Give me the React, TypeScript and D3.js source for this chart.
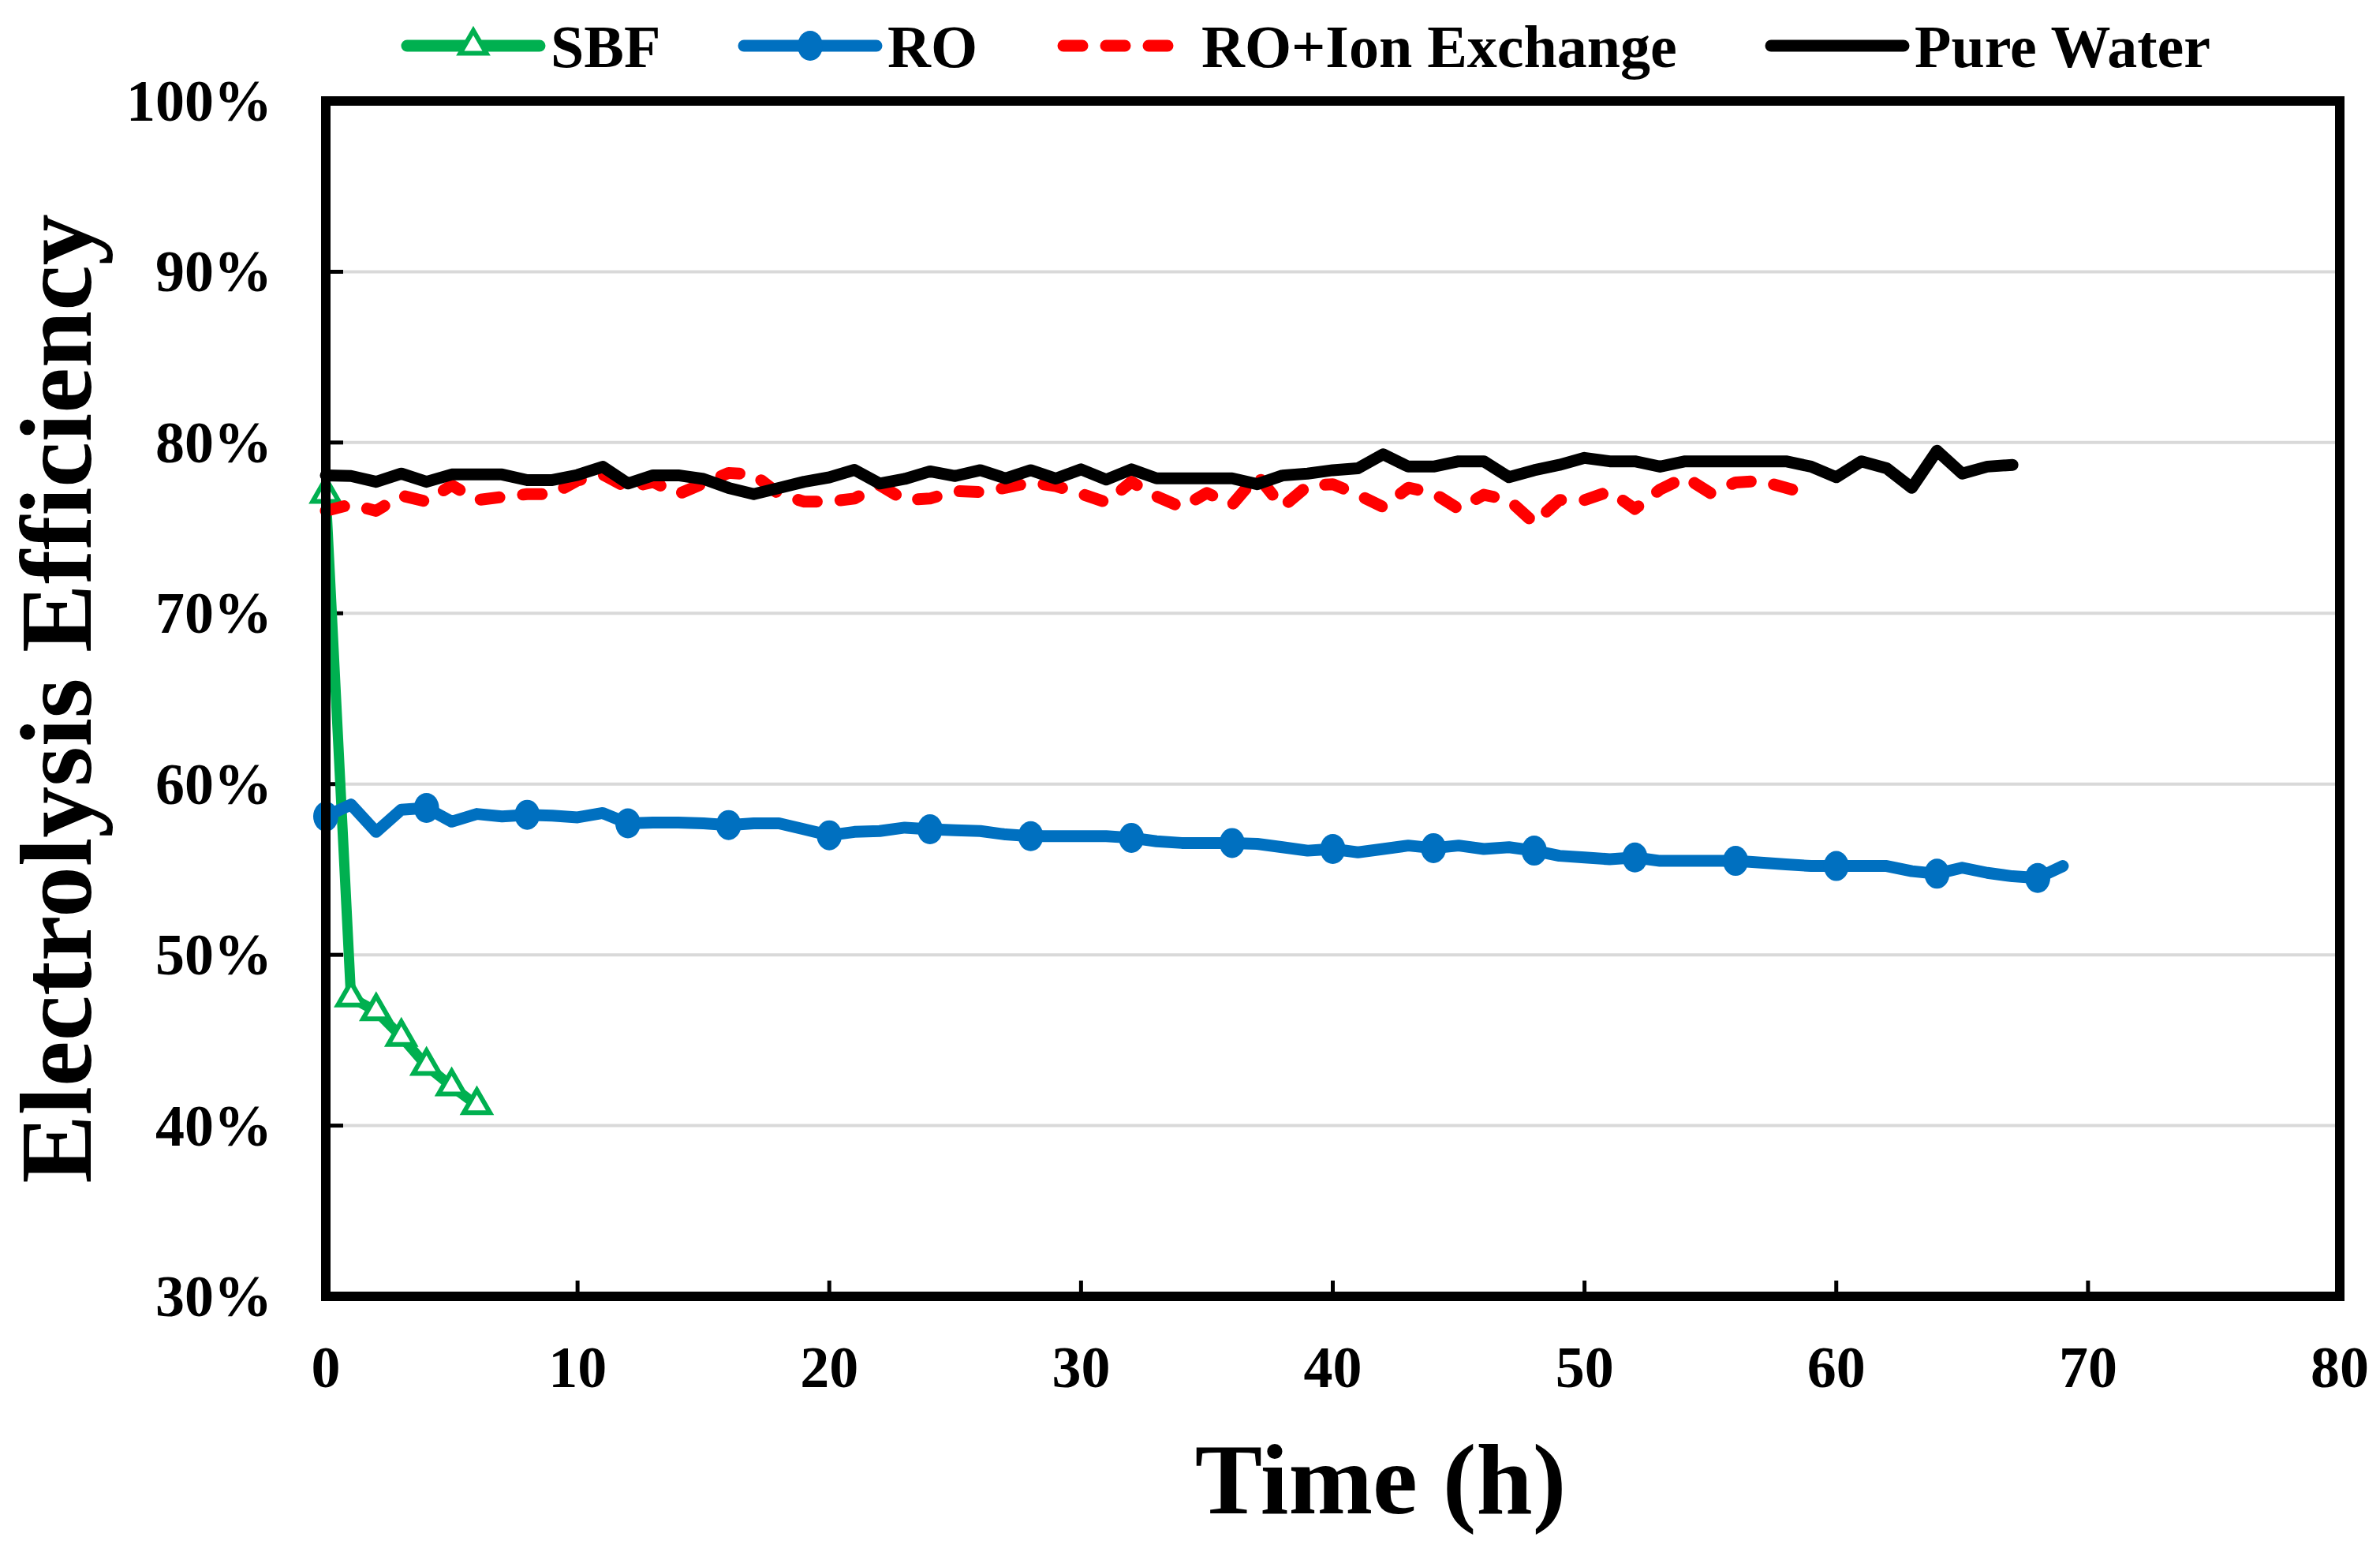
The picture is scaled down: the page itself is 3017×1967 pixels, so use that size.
import React, { useEffect, useRef } from "react";
import * as d3 from "d3";

// hourly readings
const sbfTime = [0, 1, 2, 3, 4, 5, 6];
const sbfValues = [77.0, 47.5, 46.7, 45.2, 43.5, 42.3, 41.2];

const roValues = [
  58.1, 58.8, 57.2, 58.5, 58.6, 57.8, 58.25, 58.1, 58.2, 58.15,
  58.05, 58.3, 57.7, 57.75, 57.75, 57.7, 57.6, 57.7, 57.7, 57.35,
  57.0, 57.2, 57.25, 57.45, 57.35, 57.3, 57.25, 57.05, 56.95, 56.95,
  56.95, 56.95, 56.85, 56.65, 56.55, 56.55, 56.55, 56.5, 56.3, 56.1,
  56.2, 56.0, 56.2, 56.4, 56.25, 56.4, 56.2, 56.3, 56.1, 55.8,
  55.7, 55.6, 55.7, 55.5, 55.5, 55.5, 55.5, 55.4, 55.3, 55.2,
  55.2, 55.2, 55.2, 54.9, 54.75, 55.1, 54.8, 54.6, 54.5, 55.2,
];

const ionValues = [
  76.0, 76.37, 76.0, 76.9, 76.54, 77.5, 76.63, 76.81, 76.98, 76.98,
  77.78, 78.13, 77.34, 77.69, 76.98, 77.6, 78.22, 78.13, 76.98, 76.54,
  76.54, 76.72, 77.51, 76.63, 76.72, 77.16, 77.1, 77.35, 77.66, 77.45,
  77.0, 76.5, 77.7, 76.85, 76.2, 77.05, 76.35, 78.07, 76.22, 77.46,
  77.56, 76.94, 76.22, 77.35, 77.04, 76.11, 76.94, 76.63, 75.29, 76.63,
  76.63, 77.14, 76.11, 77.25, 77.97, 77.04, 77.66, 77.76, 77.35, 76.94,
];

const pureValues = [
  78.08, 78.04, 77.7, 78.18, 77.7, 78.13, 78.13, 78.13, 77.8, 77.8,
  78.1, 78.58, 77.6, 78.08, 78.08, 77.87, 77.34, 76.98, 77.34, 77.7,
  77.96, 78.4, 77.6, 77.87, 78.31, 78.04, 78.38, 77.9, 78.38, 77.89,
  78.43, 77.83, 78.43, 77.9, 77.9, 77.9, 77.9, 77.56, 78.07, 78.18,
  78.38, 78.49, 79.31, 78.59, 78.59, 78.9, 78.9, 77.97, 78.38, 78.69,
  79.1, 78.9, 78.9, 78.59, 78.9, 78.9, 78.9, 78.9, 78.9, 78.59,
  77.97, 78.9, 78.49, 77.35, 79.52, 78.18, 78.59, 78.69,
];

const roMarkerStep = 4;

const xTicks = [0, 10, 20, 30, 40, 50, 60, 70, 80];
const yTicks = [30, 40, 50, 60, 70, 80, 90, 100];

const legendLabels = ["SBF", "RO", "RO+Ion Exchange", "Pure Water"];
const legendColors = ["#00B050", "#0070C0", "#FF0000", "#000000"];

const W = 3017;
const H = 1967;
const FONT = "'Liberation Serif', 'Times New Roman', serif";

export default function App() {
  const svgRef = useRef<SVGSVGElement>(null);

  useEffect(() => {
    if (!svgRef.current) return;
    const svg = d3.select(svgRef.current);
    svg.selectAll("*").remove();

    const margin = { top: 128, right: 51, bottom: 324, left: 413 };
    const x = d3.scaleLinear().domain([0, 80]).range([margin.left, W - margin.right]);
    const y = d3.scaleLinear().domain([30, 100]).range([H - margin.bottom, margin.top]);

    svg.append("rect").attr("width", W).attr("height", H).attr("fill", "#fff");

    // gridlines
    svg.append("g")
      .selectAll("line")
      .data(yTicks.slice(1, -1))
      .join("line")
      .attr("x1", x(0) + 6)
      .attr("x2", x(80) - 6)
      .attr("y1", (d) => y(d))
      .attr("y2", (d) => y(d))
      .attr("stroke", "#D9D9D9")
      .attr("stroke-width", 4);

    // y tick marks (inward)
    svg.append("g")
      .selectAll("line")
      .data(yTicks)
      .join("line")
      .attr("x1", x(0))
      .attr("x2", x(0) + 22)
      .attr("y1", (d) => y(d))
      .attr("y2", (d) => y(d))
      .attr("stroke", "#000")
      .attr("stroke-width", 5);

    // x tick marks (inward)
    svg.append("g")
      .selectAll("line")
      .data(xTicks)
      .join("line")
      .attr("x1", (d) => x(d))
      .attr("x2", (d) => x(d))
      .attr("y1", y(30))
      .attr("y2", y(30) - 20)
      .attr("stroke", "#000")
      .attr("stroke-width", 5);

    // tick labels
    svg.append("g")
      .selectAll("text")
      .data(yTicks)
      .join("text")
      .attr("x", 345)
      .attr("y", (d) => y(d) + 25)
      .attr("text-anchor", "end")
      .attr("font-family", FONT)
      .attr("font-weight", "bold")
      .attr("font-size", 74)
      .text((d) => `${d}%`);

    svg.append("g")
      .selectAll("text")
      .data(xTicks)
      .join("text")
      .attr("x", (d) => x(d))
      .attr("y", 1758)
      .attr("text-anchor", "middle")
      .attr("font-family", FONT)
      .attr("font-weight", "bold")
      .attr("font-size", 74)
      .text((d) => d);

    const line = d3.line<[number, number]>().x((d) => x(d[0])).y((d) => y(d[1]));
    const hourly = (vals: number[]) => vals.map((v, i) => [i, v] as [number, number]);

    // SBF
    const sbfPts = sbfValues.map((v, i) => [sbfTime[i], v] as [number, number]);
    svg.append("path")
      .attr("d", line(sbfPts))
      .attr("fill", "none")
      .attr("stroke", legendColors[0])
      .attr("stroke-width", 13)
      .attr("stroke-linejoin", "round");

    // RO
    const roPts = hourly(roValues);
    svg.append("path")
      .attr("d", line(roPts))
      .attr("fill", "none")
      .attr("stroke", legendColors[1])
      .attr("stroke-width", 15)
      .attr("stroke-linejoin", "round")
      .attr("stroke-linecap", "round");
    svg.append("g")
      .selectAll("ellipse")
      .data(roPts.filter((d) => d[0] % roMarkerStep === 0))
      .join("ellipse")
      .attr("cx", (d) => x(d[0]))
      .attr("cy", (d) => y(d[1]))
      .attr("rx", 16)
      .attr("ry", 19)
      .attr("fill", legendColors[1]);

    // SBF markers on top
    const tri = d3.symbol().type(d3.symbolTriangle).size(480);
    svg.append("g")
      .selectAll("path")
      .data(sbfPts)
      .join("path")
      .attr("transform", (d) => `translate(${x(d[0])},${y(d[1])})`)
      .attr("d", tri())
      .attr("fill", "#fff")
      .attr("stroke", legendColors[0])
      .attr("stroke-width", 6);

    // RO + Ion Exchange
    svg.append("path")
      .attr("d", line(hourly(ionValues)))
      .attr("fill", "none")
      .attr("stroke", legendColors[2])
      .attr("stroke-width", 15)
      .attr("stroke-dasharray", "24 30")
      .attr("stroke-linecap", "round")
      .attr("stroke-linejoin", "round");

    // Pure water
    svg.append("path")
      .attr("d", line(hourly(pureValues)))
      .attr("fill", "none")
      .attr("stroke", legendColors[3])
      .attr("stroke-width", 15)
      .attr("stroke-linejoin", "round")
      .attr("stroke-linecap", "round");

    // frame
    svg.append("rect")
      .attr("x", x(0))
      .attr("y", y(100))
      .attr("width", x(80) - x(0))
      .attr("height", y(30) - y(100))
      .attr("fill", "none")
      .attr("stroke", "#000")
      .attr("stroke-width", 12);

    // axis titles
    svg.append("text")
      .attr("x", 1750)
      .attr("y", 1918)
      .attr("text-anchor", "middle")
      .attr("font-family", FONT)
      .attr("font-weight", "bold")
      .attr("font-size", 128)
      .text("Time (h)");

    svg.append("text")
      .attr("transform", `translate(115,${(y(30) + y(100)) / 2}) rotate(-90)`)
      .attr("text-anchor", "middle")
      .attr("font-family", FONT)
      .attr("font-weight", "bold")
      .attr("font-size", 130)
      .text("Electrolysis Efficiency");

    // legend
    const legendX = [516, 943, 1341, 2245];
    const legendY = 58;
    const lineLen = 168;
    const lg = svg.append("g");
    legendLabels.forEach((label, i) => {
      const x0 = legendX[i];
      const ln = lg.append("line")
        .attr("x1", x0)
        .attr("x2", x0 + lineLen)
        .attr("y1", legendY)
        .attr("y2", legendY)
        .attr("stroke", legendColors[i])
        .attr("stroke-width", 15)
        .attr("stroke-linecap", "round");
      if (i === 2) ln.attr("stroke-dasharray", "24 30").attr("x1", x0 + 7);
      if (i === 0) {
        lg.append("path")
          .attr("transform", `translate(${x0 + lineLen / 2},${legendY})`)
          .attr("d", tri())
          .attr("fill", "#fff")
          .attr("stroke", legendColors[0])
          .attr("stroke-width", 6);
      }
      if (i === 1) {
        lg.append("ellipse")
          .attr("cx", x0 + lineLen / 2)
          .attr("cy", legendY)
          .attr("rx", 16)
          .attr("ry", 19)
          .attr("fill", legendColors[1]);
      }
      lg.append("text")
        .attr("x", x0 + lineLen + 14)
        .attr("y", legendY + 27)
        .attr("font-family", FONT)
        .attr("font-weight", "bold")
        .attr("font-size", 76)
        .text(label);
    });
  }, []);

  return (
    <svg
      ref={svgRef}
      width={W}
      height={H}
      style={{ position: "absolute", left: 0, top: 0, display: "block" }}
    />
  );
}
